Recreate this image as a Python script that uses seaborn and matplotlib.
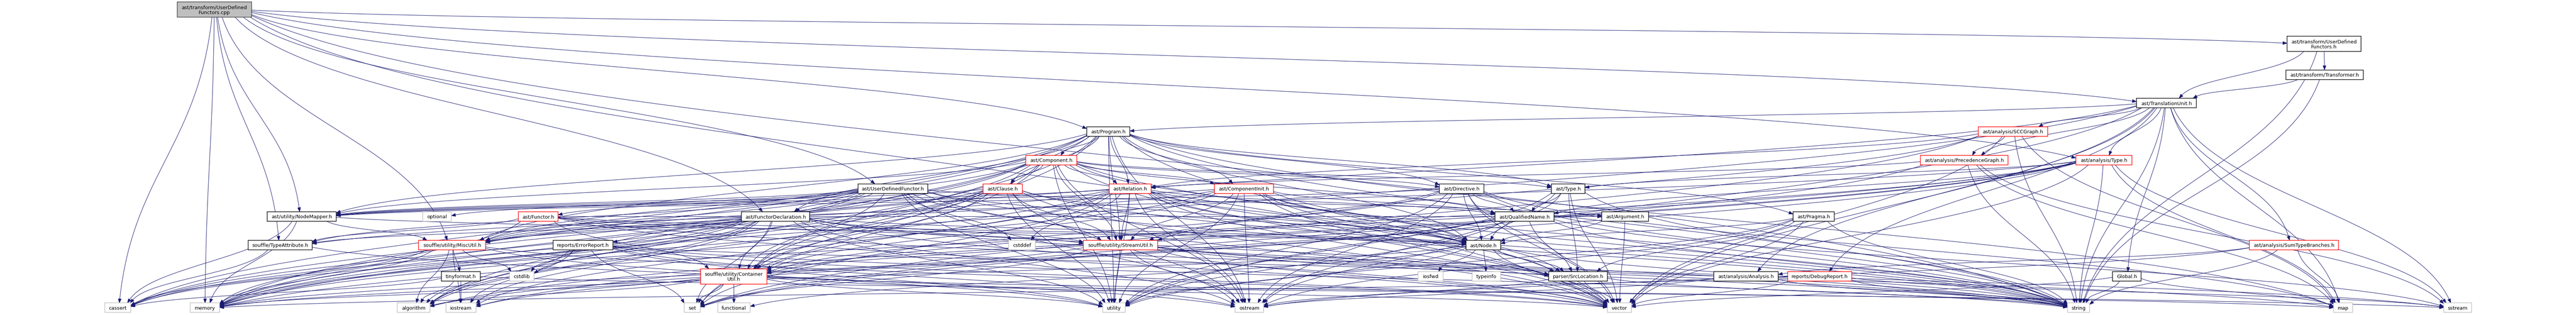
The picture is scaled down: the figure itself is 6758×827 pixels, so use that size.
import numpy as np
import matplotlib
matplotlib.use("Agg")
import matplotlib.pyplot as plt
from matplotlib.patches import Rectangle, Polygon, PathPatch
from matplotlib.path import Path
import seaborn as sns

# ---------------- data: nodes (labels, kind) ----------------
NODE_LABELS = [
    "ast/transform/UserDefined\nFunctors.cpp",
    "ast/transform/UserDefined\nFunctors.h",
    "ast/transform/Transformer.h",
    "ast/TranslationUnit.h",
    "ast/Program.h",
    "ast/analysis/SCCGraph.h",
    "ast/Component.h",
    "ast/analysis/PrecedenceGraph.h",
    "ast/analysis/Type.h",
    "ast/UserDefinedFunctor.h",
    "ast/Clause.h",
    "ast/Relation.h",
    "ast/ComponentInit.h",
    "ast/Directive.h",
    "ast/Type.h",
    "ast/utility/NodeMapper.h",
    "optional",
    "ast/Functor.h",
    "ast/FunctorDeclaration.h",
    "ast/QualifiedName.h",
    "ast/Argument.h",
    "ast/Pragma.h",
    "souffle/TypeAttribute.h",
    "souffle/utility/MiscUtil.h",
    "reports/ErrorReport.h",
    "cstddef",
    "souffle/utility/StreamUtil.h",
    "ast/Node.h",
    "ast/analysis/SumTypeBranches.h",
    "tinyformat.h",
    "cstdlib",
    "souffle/utility/Container\nUtil.h",
    "iosfwd",
    "typeinfo",
    "parser/SrcLocation.h",
    "ast/analysis/Analysis.h",
    "reports/DebugReport.h",
    "Global.h",
    "cassert",
    "memory",
    "algorithm",
    "iostream",
    "set",
    "functional",
    "utility",
    "ostream",
    "vector",
    "string",
    "map",
    "sstream",
]
# kind: main = file itself, doc = fully shown header, trunc = header with hidden includes, ext = system header
NODE_KINDS = [
    "main", "doc", "doc", "doc", "doc", "trunc", "trunc", "trunc", "trunc",
    "doc", "trunc", "trunc", "trunc", "doc", "doc",
    "doc", "ext", "trunc", "doc", "doc", "doc", "doc",
    "doc", "trunc", "doc", "ext", "trunc", "doc", "trunc",
    "doc", "ext", "trunc", "ext", "ext", "doc", "doc", "trunc", "doc",
    "ext", "ext", "ext", "ext", "ext", "ext", "ext", "ext", "ext", "ext", "ext", "ext",
]

# ---------------- data: include edges ----------------
CPP = "ast/transform/UserDefined\nFunctors.cpp"
UDFH = "ast/transform/UserDefined\nFunctors.h"
CONT = "souffle/utility/Container\nUtil.h"
INCLUDES = {
    CPP: [UDFH, "ast/TranslationUnit.h", "ast/Program.h", "ast/UserDefinedFunctor.h",
          "ast/FunctorDeclaration.h", "ast/utility/NodeMapper.h", "souffle/TypeAttribute.h",
          "souffle/utility/MiscUtil.h", "ast/analysis/Type.h", "cassert", "memory", "string", "vector"],
    UDFH: ["ast/TranslationUnit.h", "ast/transform/Transformer.h", "string"],
    "ast/transform/Transformer.h": ["ast/TranslationUnit.h", "string"],
    "ast/TranslationUnit.h": ["ast/Program.h", "ast/analysis/SCCGraph.h", "ast/analysis/PrecedenceGraph.h",
                              "ast/analysis/Type.h", "ast/analysis/SumTypeBranches.h", "ast/analysis/Analysis.h",
                              "reports/DebugReport.h", "reports/ErrorReport.h", "Global.h", "map", "memory",
                              "string", "utility", "sstream", "vector"],
    "ast/Program.h": ["ast/Component.h", "ast/Clause.h", "ast/Relation.h", "ast/ComponentInit.h",
                      "ast/Directive.h", "ast/Type.h", "ast/FunctorDeclaration.h", "ast/Pragma.h",
                      "ast/Node.h", "ast/utility/NodeMapper.h", "souffle/utility/StreamUtil.h", CONT,
                      "souffle/utility/MiscUtil.h", "cassert", "memory", "string", "utility", "vector",
                      "ostream", "algorithm", "set", "map"],
    "ast/Component.h": ["ast/Clause.h", "ast/Relation.h", "ast/ComponentInit.h", "ast/Directive.h",
                        "ast/Type.h", "ast/QualifiedName.h", "ast/Node.h", "ast/utility/NodeMapper.h",
                        "souffle/utility/StreamUtil.h", CONT, "souffle/utility/MiscUtil.h", "cassert",
                        "memory", "ostream", "string", "utility", "vector", "algorithm", "set"],
    "ast/UserDefinedFunctor.h": ["ast/Functor.h", "ast/FunctorDeclaration.h", "ast/Argument.h", "ast/Node.h",
                                 "ast/utility/NodeMapper.h", "souffle/TypeAttribute.h", CONT,
                                 "souffle/utility/StreamUtil.h", "souffle/utility/MiscUtil.h", "cassert",
                                 "cstddef", "memory", "ostream", "string", "utility", "vector", "optional"],
    "ast/Clause.h": ["ast/Node.h", "ast/utility/NodeMapper.h", CONT, "souffle/utility/StreamUtil.h",
                     "souffle/utility/MiscUtil.h", "algorithm", "cassert", "memory", "ostream", "string",
                     "utility", "vector"],
    "ast/Relation.h": ["ast/QualifiedName.h", "ast/Node.h", "ast/utility/NodeMapper.h", CONT,
                       "souffle/utility/StreamUtil.h", "souffle/utility/MiscUtil.h", "cstddef", "iostream",
                       "memory", "set", "string", "utility", "vector", "ostream", "parser/SrcLocation.h"],
    "ast/ComponentInit.h": ["ast/QualifiedName.h", "ast/Node.h", "ast/utility/NodeMapper.h", CONT,
                            "souffle/utility/StreamUtil.h", "souffle/utility/MiscUtil.h", "parser/SrcLocation.h",
                            "memory", "ostream", "string", "utility", "vector"],
    "ast/Directive.h": ["ast/QualifiedName.h", "ast/Node.h", "ast/utility/NodeMapper.h",
                        "souffle/utility/StreamUtil.h", CONT, "parser/SrcLocation.h", "map", "ostream",
                        "string", "utility", "vector"],
    "ast/Type.h": ["ast/QualifiedName.h", "ast/Node.h", "parser/SrcLocation.h", "ostream", "string",
                   "utility", "vector"],
    "ast/utility/NodeMapper.h": ["ast/Node.h", "souffle/utility/MiscUtil.h", "memory", "cassert"],
    "ast/Functor.h": ["ast/Argument.h", "ast/Node.h", "souffle/TypeAttribute.h", CONT,
                      "souffle/utility/StreamUtil.h", "memory", "string", "vector"],
    "ast/FunctorDeclaration.h": ["ast/Node.h", "parser/SrcLocation.h", "souffle/TypeAttribute.h", CONT,
                                 "souffle/utility/MiscUtil.h", "souffle/utility/StreamUtil.h", "algorithm",
                                 "cassert", "cstdlib", "iostream", "memory", "ostream", "string", "utility",
                                 "vector", "set"],
    "ast/QualifiedName.h": ["algorithm", "iostream", "ostream", "string", "utility", "vector", "sstream"],
    "ast/Argument.h": ["ast/Node.h", "vector"],
    "ast/Pragma.h": ["ast/Node.h", "parser/SrcLocation.h", "ostream", "string", "utility", "vector"],
    "souffle/TypeAttribute.h": ["cassert", "ostream"],
    "souffle/utility/MiscUtil.h": ["tinyformat.h", "cstdlib", "iostream", "cassert", "memory", "algorithm",
                                   "utility", "vector"],
    "reports/ErrorReport.h": ["parser/SrcLocation.h", "algorithm", "cstdlib", "iostream", "ostream", "set",
                              "string", "vector", "utility"],
    "souffle/utility/StreamUtil.h": ["ostream", "utility", "map", "set", "sstream", "string", "vector", "memory"],
    "ast/Node.h": ["parser/SrcLocation.h", "iosfwd", "typeinfo", "functional", "memory", "string",
                   "utility", "vector"],
    "ast/analysis/SumTypeBranches.h": ["ast/analysis/Analysis.h", "map", "string", "ostream"],
    "tinyformat.h": ["algorithm", "iostream", "sstream", "cassert"],
    CONT: ["set", "functional", "algorithm", "memory", "map", "vector", "utility"],
    "parser/SrcLocation.h": ["string", "vector", "ostream"],
    "ast/analysis/Analysis.h": ["string", "ostream"],
    "reports/DebugReport.h": ["string", "vector", "sstream", "memory"],
    "Global.h": ["map", "string", "vector"],
    "ast/analysis/SCCGraph.h": ["ast/analysis/PrecedenceGraph.h", "ast/Relation.h", "map", "set", "string",
                                "vector", "souffle/utility/StreamUtil.h"],
    "ast/analysis/PrecedenceGraph.h": ["ast/Relation.h", "map", "set", "string", "sstream"],
    "ast/analysis/Type.h": ["souffle/TypeAttribute.h", "ast/QualifiedName.h", "ast/Type.h", CONT, "map",
                            "set", "sstream", "string", "memory", "vector", "iostream", "algorithm"],
}

# ---------------- layout (rank row, left edge, right edge in pixels) ----------------
RANK_Y = [26, 116, 197, 271.5, 346.5, 421.5, 496, 569.5, 644.5, 726.5, 809]
LAYOUT = [
    (0, 465, 660), (1, 6000, 6194), (2, 5997, 6200), (3, 5605, 5762), (4, 2851, 2964),
    (4, 5190, 5372), (5, 2691, 2825), (5, 5038, 5268), (5, 5446, 5593),
    (6, 2251, 2434), (6, 2579, 2682), (6, 2910, 3020), (6, 3186, 3341), (6, 3776, 3893), (6, 4070, 4158),
    (7, 701, 882), (7, 1109, 1184), (7, 1360, 1464), (7, 1945, 2124), (7, 3922, 4077), (7, 4202, 4325),
    (7, 4704, 4812),
    (8, 651, 819), (8, 1098, 1274), (8, 1451, 1608), (8, 2646, 2716), (8, 2842, 3037), (8, 3846, 3937),
    (8, 5901, 6135),
    (9, 1158, 1260), (9, 1337, 1401), (9, 1838, 2012), (9, 3720, 3786), (9, 3862, 3937), (9, 4063, 4217),
    (9, 4496, 4665), (9, 4690, 4858), (9, 5542, 5617),
    (10, 275, 343), (10, 499, 576), (10, 1042, 1128), (10, 1170, 1249), (10, 1795, 1837), (10, 1883, 1968),
    (10, 2893, 2952), (10, 3240, 3315), (10, 4217, 4280), (10, 5424, 5482), (10, 6122, 6172),
    (10, 6411, 6484),
]

STYLE = {
    "main": dict(fc="#bfbfbf", ec="#404040"),
    "doc": dict(fc="white", ec="#000000"),
    "trunc": dict(fc="white", ec="#ff0000"),
    "ext": dict(fc="white", ec="#bfbfbf"),
}
EDGE_COLOR = "#191970"

W_PX, H_PX = 6758, 828

sns.set_theme(style="white")
plt.rcParams["font.family"] = ["DejaVu Sans"]

fig = plt.figure(figsize=(W_PX / 100, H_PX / 100), dpi=100)
ax = fig.add_axes([0, 0, 1, 1])
ax.set_xlim(0, W_PX)
ax.set_ylim(H_PX, 0)
ax.axis("off")

geom = {}
for label, (rank, x0, x1) in zip(NODE_LABELS, LAYOUT):
    h = 40 if "\n" in label else 25
    geom[label] = (0.5 * (x0 + x1), RANK_Y[rank], x1 - x0, h)


def boundary(cx, cy, w, h, dx, dy):
    tx = (w / 2) / abs(dx) if dx else np.inf
    ty = (h / 2) / abs(dy) if dy else np.inf
    t = min(tx, ty)
    return np.array([cx + dx * t, cy + dy * t])


A = 1.0
AL, AW = 11.0, 4.0
for src, tgts in INCLUDES.items():
    sx, sy, sw, sh = geom[src]
    for tgt in tgts:
        tx, ty, tw, th = geom[tgt]
        p0 = boundary(sx, sy, sw, sh, tx - sx, (ty - sy) * A)
        p3 = boundary(tx, ty, tw, th, sx - tx, (sy - ty) * A)
        d = p3 - p0
        p1 = np.array([p0[0] + 0.15 * d[0], p0[1] + 0.45 * d[1]])
        p2 = np.array([p3[0] - 0.15 * d[0], p3[1] - 0.45 * d[1]])
        tang = p3 - p2
        tang = tang / (np.hypot(*tang) + 1e-9)
        base = p3 - AL * tang
        path = Path([p0, p1, p2, base], [Path.MOVETO, Path.CURVE4, Path.CURVE4, Path.CURVE4])
        ax.add_patch(PathPatch(path, fc="none", ec=EDGE_COLOR, lw=0.8, zorder=1))
        perp = np.array([-tang[1], tang[0]])
        tri = [p3, base + AW * perp, base - AW * perp]
        ax.add_patch(Polygon(tri, closed=True, fc=EDGE_COLOR, ec=EDGE_COLOR, lw=0.6, zorder=2))

for label, kind in zip(NODE_LABELS, NODE_KINDS):
    cx, cy, w, h = geom[label]
    st = STYLE[kind]
    ax.add_patch(Rectangle((cx - w / 2, cy - h / 2), w, h, fc=st["fc"], ec=st["ec"], lw=1.1, zorder=3))
    ax.text(cx, cy + 0.5, label, ha="center", va="center", fontsize=9.3, color="black",
            linespacing=1.05, zorder=4)

fig.savefig("out.png", dpi=100)
